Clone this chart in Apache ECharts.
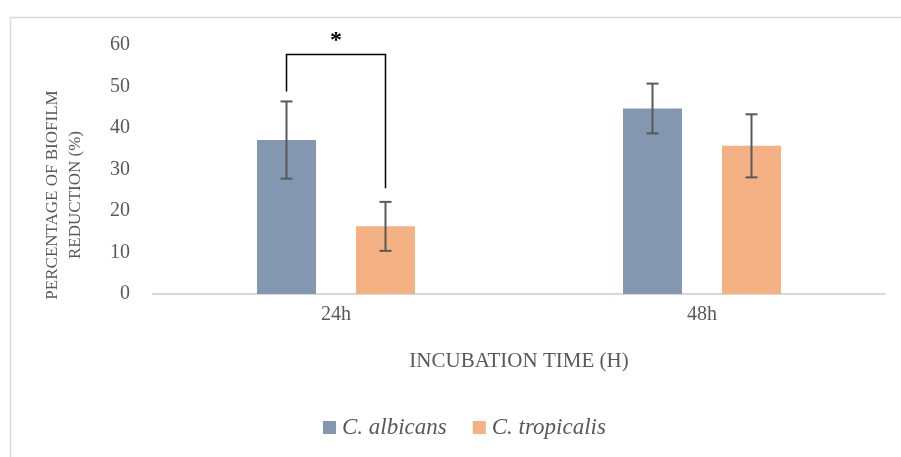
<!DOCTYPE html>
<html><head><meta charset="utf-8">
<script src="https://cdn.jsdelivr.net/npm/echarts@6/dist/echarts.min.js"></script>
<style>html,body{margin:0;padding:0;background:#fff}#c{width:901px;height:457px}</style>
</head><body><div id="c"></div>
<script>
var categories = ['24h', '48h'];
var albicans = [37.1, 44.7];
var albicansErr = [9.3, 6.0];
var tropicalis = [16.3, 35.7];
var tropicalisErr = [5.9, 7.6];
var yTicks = [0, 10, 20, 30, 40, 50, 60];
// significance bracket: [category, top, left leg end, right leg end]
var sigBracket = [[0, 57.7, 48.8, 25.5]];

var FONT = 'Liberation Serif';
var BAR_W = 59, BAR_GAP = 40;
var chart = echarts.init(document.getElementById('c'));

function errSeries(vals, errs, offset) {
  return {
    type: 'custom', silent: true, z: 5,
    data: vals.map(function (v, i) { return [i, v - errs[i], v + errs[i]]; }),
    renderItem: function (params, api) {
      var lo = api.coord([api.value(0), api.value(1)]);
      var hi = api.coord([api.value(0), api.value(2)]);
      var x = lo[0] + offset, c = 6;
      var st = { stroke: '#595959', lineWidth: 2 };
      return { type: 'group', children: [
        { type: 'line', shape: { x1: x, y1: lo[1], x2: x, y2: hi[1] }, style: st },
        { type: 'line', shape: { x1: x - c, y1: lo[1], x2: x + c, y2: lo[1] }, style: st },
        { type: 'line', shape: { x1: x - c, y1: hi[1], x2: x + c, y2: hi[1] }, style: st }
      ]};
    }
  };
}
var off = (BAR_W + BAR_GAP) / 2;

chart.setOption({
  animation: false,
  backgroundColor: '#fff',
  graphic: [{ type: 'rect', left: 8, top: 15, shape: { width: 900, height: 450 },
    style: { fill: 'none', stroke: '#D9D9D9', lineWidth: 1.5 }, silent: true },
    { type: 'text', x: 64, y: 195, rotation: Math.PI / 2, z: 10,
      style: { text: 'PERCENTAGE OF BIOFILM\nREDUCTION (%)', font: '17px "' + FONT + '"', fill: '#595959', align: 'center', verticalAlign: 'middle', lineHeight: 23 } }],
  grid: { left: 153, right: 16, top: 45, bottom: 163 },
  legend: {
    bottom: 13, left: 318, itemWidth: 13, itemHeight: 13, itemGap: 26,
    icon: 'rect',
    textStyle: { fontFamily: FONT, fontStyle: 'italic', fontSize: 23, color: '#595959', padding: [0, 0, 0, 1] },
    data: ['C. albicans', 'C. tropicalis']
  },
  xAxis: {
    type: 'category', data: categories,
    name: 'INCUBATION TIME (H)', nameLocation: 'middle', nameGap: 57,
    nameTextStyle: { fontFamily: FONT, fontSize: 21, color: '#595959' },
    axisLine: { lineStyle: { color: '#D9D9D9', width: 2 } },
    axisTick: { show: false },
    axisLabel: { fontFamily: FONT, fontSize: 20, color: '#595959', margin: 11 }
  },
  yAxis: {
    type: 'value', min: yTicks[0], max: yTicks[yTicks.length - 1], interval: 10,
    splitLine: { show: false }, axisLine: { show: false }, axisTick: { show: false },
    axisLabel: { fontFamily: FONT, fontSize: 20, color: '#595959', margin: 23 }
  },
  series: [
    { name: 'C. albicans', type: 'bar', data: albicans, barWidth: BAR_W, barGap: (BAR_GAP / BAR_W * 100) + '%',
      itemStyle: { color: '#8497B0' } },
    { name: 'C. tropicalis', type: 'bar', data: tropicalis, barWidth: BAR_W,
      itemStyle: { color: '#F4B183' } },
    errSeries(albicans, albicansErr, -off),
    errSeries(tropicalis, tropicalisErr, off),
    { type: 'custom', silent: true, z: 6, data: sigBracket,
      renderItem: function (params, api) {
        var top = api.coord([api.value(0), api.value(1)]);
        var l = api.coord([api.value(0), api.value(2)]);
        var r = api.coord([api.value(0), api.value(3)]);
        var xl = top[0] - off, xr = top[0] + off;
        var st = { stroke: '#000', lineWidth: 1.5, fill: 'none' };
        return { type: 'group', children: [
          { type: 'polyline', shape: { points: [[xl, l[1]], [xl, top[1]], [xr, top[1]], [xr, r[1]]] }, style: st },
          { type: 'text', style: { text: '*', x: top[0], y: top[1] - 2, font: 'bold 24px "' + FONT + '"', fill: '#000', align: 'center', verticalAlign: 'bottom' } }
        ]};
      } }
  ]
});
</script></body></html>
